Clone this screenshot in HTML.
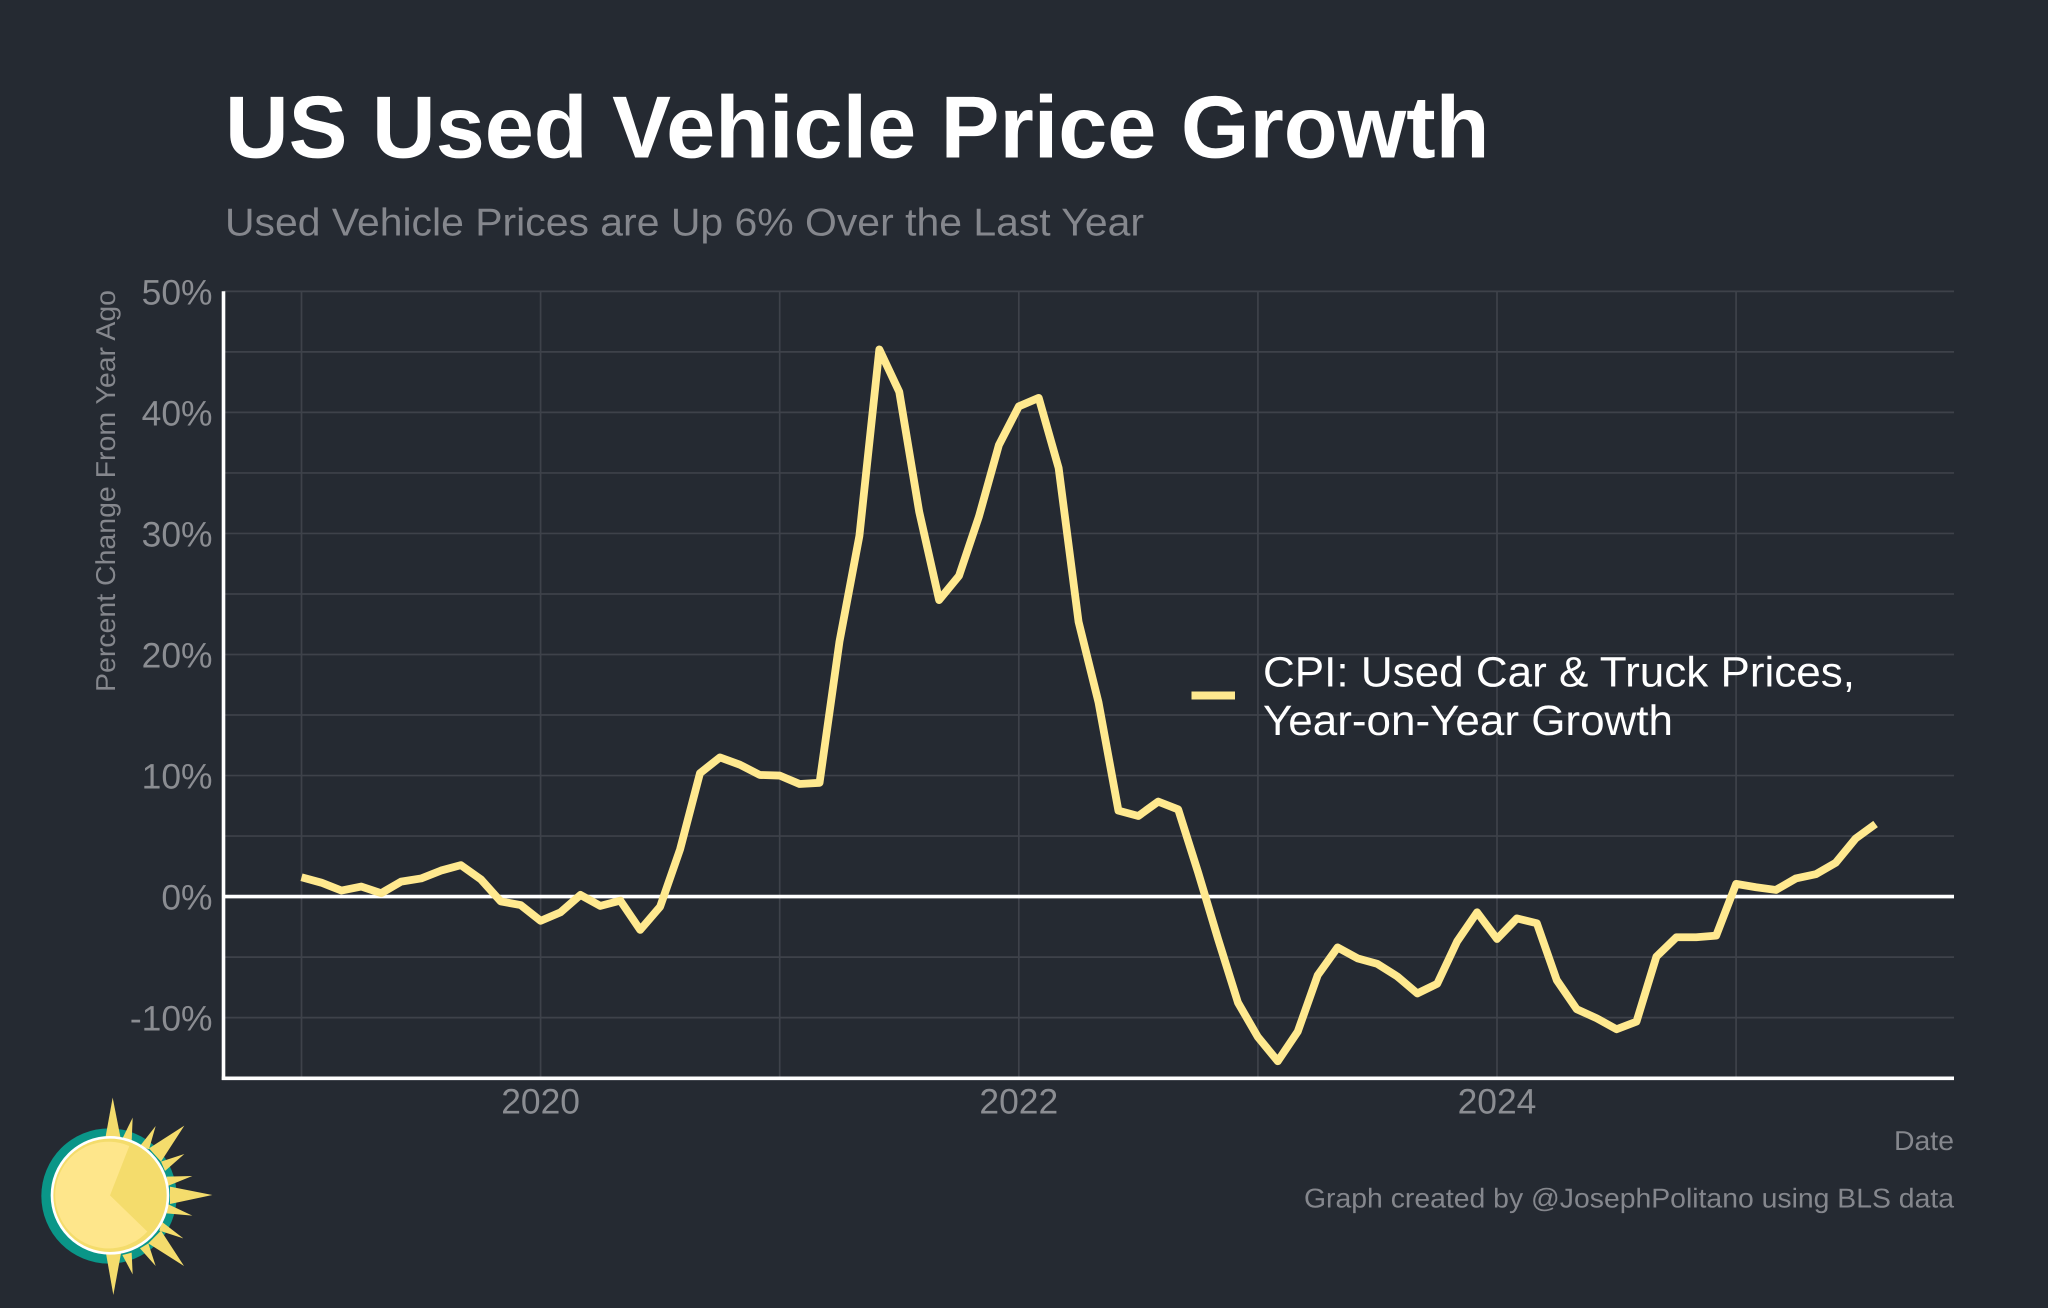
<!DOCTYPE html>
<html lang="en">
<head>
<meta charset="utf-8">
<title>US Used Vehicle Price Growth</title>
<style>
html,body{margin:0;padding:0;background:#252a32;}
svg{display:block;font-family:"Liberation Sans",Arial,sans-serif;text-rendering:geometricPrecision;}
</style>
</head>
<body>
<svg id="chart" xmlns="http://www.w3.org/2000/svg" width="2048" height="1308" viewBox="0 0 2048 1308">
  <rect x="0" y="0" width="2048" height="1308" fill="#252a32"/>
  <text x="225" y="157.3" font-size="88.2" font-weight="700" fill="#ffffff">US Used Vehicle Price Growth</text>
  <text x="225" y="235.7" font-size="38.8" textLength="919" lengthAdjust="spacingAndGlyphs" fill="#85878d">Used Vehicle Prices are Up 6% Over the Last Year</text>
  <g id="grid"></g>
  <g id="axes"></g>
  <g id="series"></g>
  <g id="tick-labels"></g>
  <text transform="translate(115,491) rotate(-90)" text-anchor="middle" font-size="27.3" textLength="402" lengthAdjust="spacingAndGlyphs" fill="#85878d">Percent Change From Year Ago</text>
  <text x="1954" y="1150" text-anchor="end" font-size="27.3" textLength="60" lengthAdjust="spacingAndGlyphs" fill="#85878d">Date</text>
  <text x="1954" y="1207.3" text-anchor="end" font-size="27.3" textLength="650" lengthAdjust="spacingAndGlyphs" fill="#85878d">Graph created by @JosephPolitano using BLS data</text>
  <g>
    <rect x="1191.5" y="691.5" width="43.5" height="8" fill="#ffe98f"/>
    <text x="1263" y="686.7" font-size="42.5" textLength="592" lengthAdjust="spacingAndGlyphs" fill="#ffffff">CPI: Used Car &amp; Truck Prices,</text>
    <text x="1263" y="735" font-size="42.5" textLength="410" lengthAdjust="spacingAndGlyphs" fill="#ffffff">Year-on-Year Growth</text>
  </g>
  <g transform="scale(0.33333) translate(0,3180)">
    <circle cx="327" cy="408" r="203" fill="#0a9688"/>
    <g fill="#f4dc6c">
      <polygon points="315,240 338,113 363,240"/>
      <polygon points="366,238 398,173 395,245"/>
      <polygon points="420,258 467,198 447,268"/>
      <polygon points="447,265 553,197 483,305"/>
      <polygon points="483,305 553,282 495,333"/>
      <polygon points="500,350 577,348 503,378"/>
      <polygon points="510,380 637,405 510,432"/>
      <polygon points="503,432 577,467 500,460"/>
      <polygon points="485,485 550,535 478,512"/>
      <polygon points="483,512 552,618 445,550"/>
      <polygon points="445,550 467,618 420,565"/>
      <polygon points="395,578 398,643 367,585"/>
      <polygon points="363,580 340,705 318,580"/>
    </g>
    <circle cx="330" cy="406" r="174" fill="#f4dc6c" stroke="#ffffff" stroke-width="8"/>
    <path d="M330,406 L388,258 A160,160 0 1 0 442,515 Z" fill="#fee68b"/>
  </g>
</svg>
<script>
const months = ["2019-01","2019-02","2019-03","2019-04","2019-05","2019-06","2019-07","2019-08","2019-09","2019-10","2019-11","2019-12","2020-01","2020-02","2020-03","2020-04","2020-05","2020-06","2020-07","2020-08","2020-09","2020-10","2020-11","2020-12","2021-01","2021-02","2021-03","2021-04","2021-05","2021-06","2021-07","2021-08","2021-09","2021-10","2021-11","2021-12","2022-01","2022-02","2022-03","2022-04","2022-05","2022-06","2022-07","2022-08","2022-09","2022-10","2022-11","2022-12","2023-01","2023-02","2023-03","2023-04","2023-05","2023-06","2023-07","2023-08","2023-09","2023-10","2023-11","2023-12","2024-01","2024-02","2024-03","2024-04","2024-05","2024-06","2024-07","2024-08","2024-09","2024-10","2024-11","2024-12","2025-01","2025-02","2025-03","2025-04","2025-05","2025-06","2025-07","2025-08"];
const usedCarGrowth = [1.6,1.15,0.5,0.83,0.28,1.24,1.5,2.15,2.6,1.43,-0.4,-0.7,-2.0,-1.3,0.14,-0.77,-0.33,-2.75,-0.83,3.9,10.2,11.5,10.9,10.05,10.0,9.3,9.4,21.07,29.8,45.2,41.7,31.8,24.5,26.5,31.4,37.3,40.5,41.2,35.4,22.7,16.05,7.1,6.66,7.85,7.2,2.0,-3.5,-8.76,-11.6,-13.6,-11.15,-6.5,-4.2,-5.1,-5.56,-6.6,-8.0,-7.2,-3.7,-1.3,-3.5,-1.8,-2.2,-6.9,-9.3,-10.05,-10.96,-10.33,-4.96,-3.36,-3.36,-3.22,1.05,0.77,0.55,1.5,1.85,2.8,4.8,6.0];
const yTickValues = [50,40,30,20,10,0,-10];
const yTickLabels = ["50%","40%","30%","20%","10%","0%","-10%"];
const yGridValues = [50,45,40,35,30,25,20,15,10,5,0,-5,-10];
const xGridYears = [2019,2020,2021,2022,2023,2024,2025];
const xTickYears = [2020,2022,2024];
const xTickLabels = ["2020","2022","2024"];

const NS = "http://www.w3.org/2000/svg";
const plotLeft = 223.5, plotRight = 1954, plotTop = 291.3, plotBottom = 1078.3;

function xScale(year) {
  return 301.5 + (year - 2019) * 239.1;
}
function yScale(pct) {
  return 896.6 - pct * 12.105;
}
function monthToYear(m) {
  const parts = m.split("-");
  return Number(parts[0]) + (Number(parts[1]) - 1) / 12;
}
function make(tag, attrs, parent) {
  const el = document.createElementNS(NS, tag);
  Object.keys(attrs).forEach(function (k) { el.setAttribute(k, attrs[k]); });
  parent.appendChild(el);
  return el;
}

const gridGroup = document.getElementById("grid");
yGridValues.forEach(function (v) {
  const line = make("line", {x1: plotLeft, x2: plotRight, y1: yScale(v), y2: yScale(v), stroke: "#3e424a", "stroke-width": 1.7}, gridGroup);
  
  
});
xGridYears.forEach(function (yr) {
  const line = make("line", {x1: xScale(yr), x2: xScale(yr), y1: plotTop, y2: plotBottom, stroke: "#3e424a", "stroke-width": 1.7}, gridGroup);
  
  
});

const axesGroup = document.getElementById("axes");
const zeroLine = make("line", {x1: plotLeft, x2: plotRight, y1: yScale(0), y2: yScale(0), stroke: "#ffffff", "stroke-width": 3.6}, axesGroup);


const yAxisLine = make("line", {x1: plotLeft, x2: plotLeft, y1: plotTop, y2: plotBottom + 1.7, stroke: "#ffffff", "stroke-width": 3.6}, axesGroup);


const xAxisLine = make("line", {x1: plotLeft - 1.7, x2: plotRight, y1: plotBottom, y2: plotBottom, stroke: "#ffffff", "stroke-width": 3.6}, axesGroup);



const seriesGroup = document.getElementById("series");
const linePoints = months.map(function (m, i) {
  return xScale(monthToYear(m)).toFixed(2) + "," + yScale(usedCarGrowth[i]).toFixed(2);
}).join(" ");
const seriesLine = make("polyline", {points: linePoints, fill: "none", stroke: "#ffe98f", "stroke-width": 7.8, "stroke-linejoin": "round", "stroke-linecap": "butt"}, seriesGroup);



const labelGroup = document.getElementById("tick-labels");
yTickValues.forEach(function (v, i) {
  const t = make("text", {x: 212.5, y: yScale(v) + 13, "text-anchor": "end", "font-size": 35.4, fill: "#8b8d92"}, labelGroup);
  t.textContent = yTickLabels[i];
  
  
});
xTickYears.forEach(function (yr, i) {
  const t = make("text", {x: xScale(yr), y: 1113.3, "text-anchor": "middle", "font-size": 35.4, fill: "#8b8d92"}, labelGroup);
  t.textContent = xTickLabels[i];
  
  
});
</script>
</body>
</html>
